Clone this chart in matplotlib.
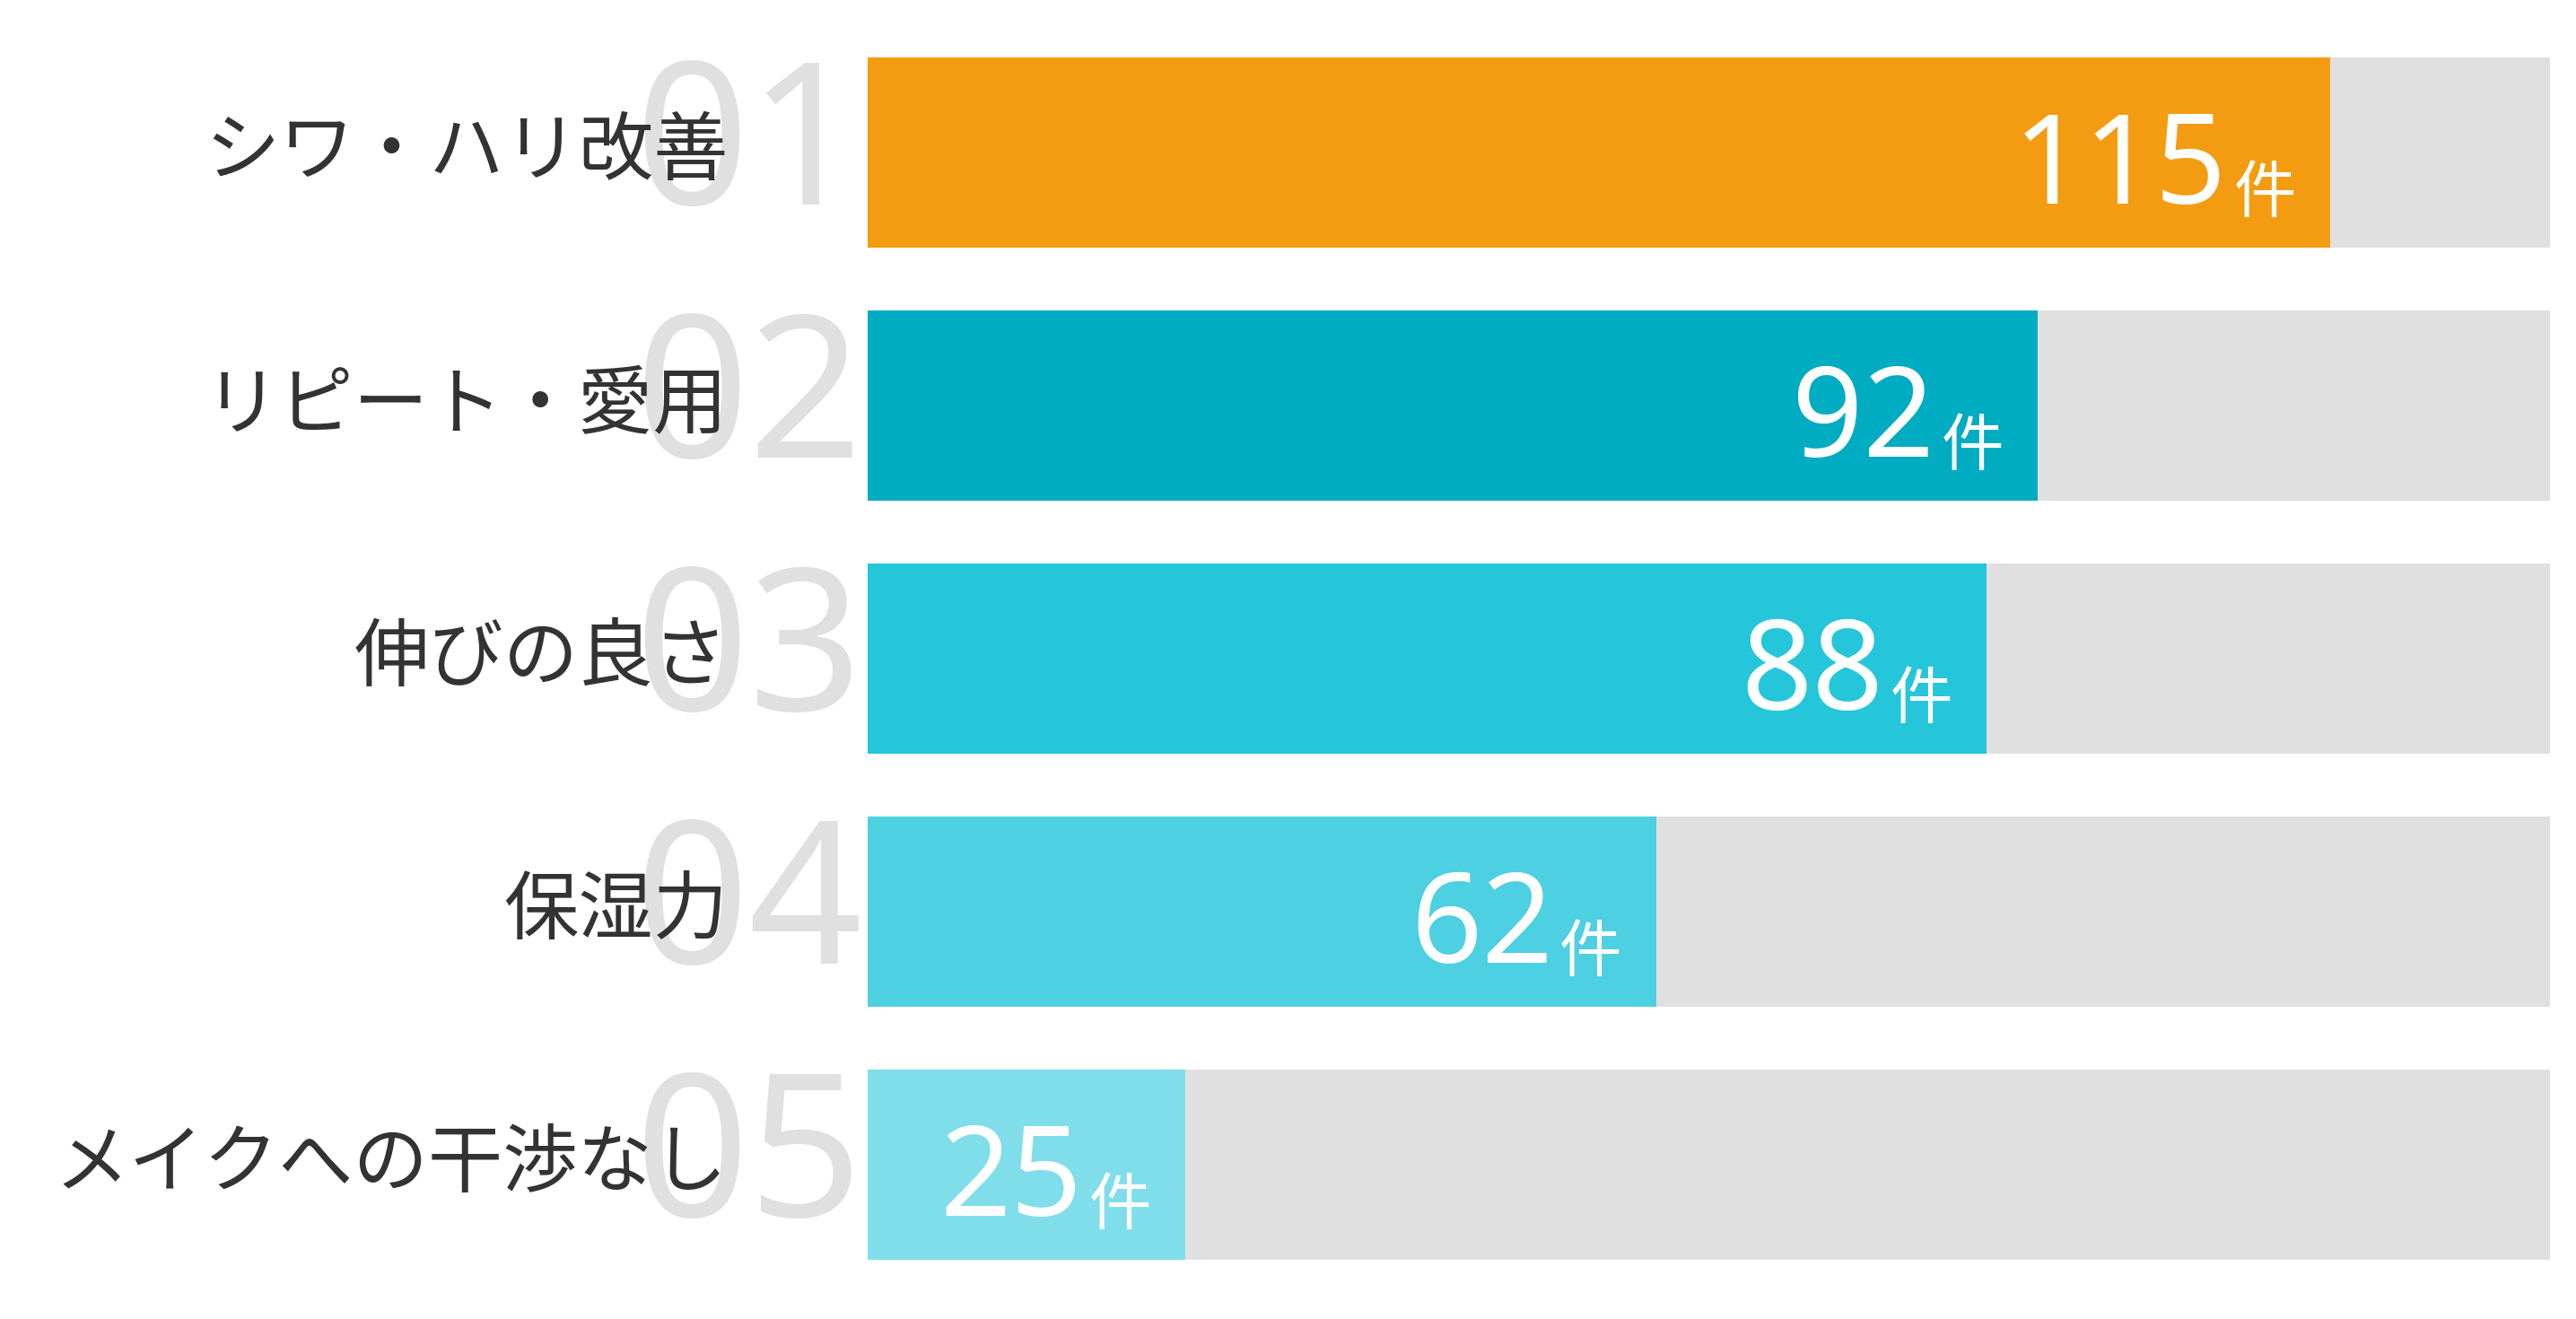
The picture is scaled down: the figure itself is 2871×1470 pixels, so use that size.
import matplotlib
matplotlib.use("Agg")
import matplotlib.pyplot as plt

plt.rcParams['font.family'] = ['Noto Sans CJK JP', 'DejaVu Sans']

labels = ['シワ・ハリ改善', 'リピート・愛用', '伸びの良さ', '保湿力', 'メイクへの干渉なし']
ranks = ['01', '02', '03', '04', '05']
counts = [115, 92, 88, 62, 25]
total = 132.3
colors = ['#F39C12', '#00ACC1', '#26C6DA', '#4DD0E1', '#80DEEA']
unit = '件'

W, H = 2871, 1470
fig = plt.figure(figsize=(W / 100, H / 100), dpi=100)
# axes spans the bar area horizontally, full height
ax = fig.add_axes([967 / W, 0, 1875 / W, 1])
ax.set_xlim(0, total)
ax.set_ylim((H - 170) / 282, -170 / 282)
ax.axis('off')

y = list(range(len(labels)))
ax.barh(y, [total] * len(y), height=0.752, color='#E0E0E0', zorder=1)
ax.barh(y, counts, height=0.752, color=colors, zorder=2)

digits = ['Noto Sans', 'DejaVu Sans']
tr = ax.get_yaxis_transform()
for i, (lab, rk, c) in enumerate(zip(labels, ranks, counts)):
    # big rank number behind the label
    ax.annotate(rk, (-0.003, i), xycoords=tr, xytext=(0, -58),
                textcoords='offset pixels', ha='right', va='baseline',
                fontsize=160, family=digits, color='#E0E0E0', zorder=0,
                annotation_clip=False)
    ax.annotate(lab, (-0.083, i), xycoords=tr, xytext=(0, 0),
                textcoords='offset pixels', ha='right', va='center',
                fontsize=60, color='#333333', zorder=3, annotation_clip=False)
    # value + unit inside bar end
    ax.annotate(str(c), (c, i), xytext=(-115, -57), textcoords='offset pixels',
                ha='right', va='baseline', fontsize=100, family=digits,
                color='white', zorder=4)
    ax.annotate(unit, (c, i), xytext=(-38, -66), textcoords='offset pixels',
                ha='right', va='baseline', fontsize=50, color='white', zorder=4)

fig.savefig('out.png', dpi=100, facecolor='white')
